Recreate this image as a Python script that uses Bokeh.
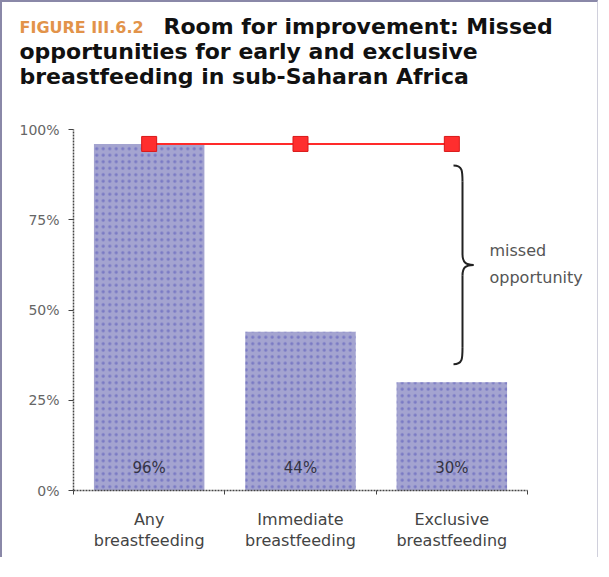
from bokeh.plotting import figure
from bokeh.models import Label, FixedTicker, NumeralTickFormatter, Range1d
from bokeh.core.properties import value
from bokeh.embed import file_html
from bokeh.resources import INLINE
import numpy as np

# ---------------- data ----------------
categories = ["Any", "Immediate", "Exclusive"]
category_second_line = ["breastfeeding", "breastfeeding", "breastfeeding"]
values = [0.96, 0.44, 0.30]
value_labels = ["96%", "44%", "30%"]
potential = [0.96, 0.96, 0.96]
y_ticks = [0, 0.25, 0.5, 0.75, 1.0]
brace_span = [0.90, 0.35]          # top / bottom of the "missed opportunity" brace
annotation_lines = ["missed", "opportunity"]
title_tag = "FIGURE III.6.2"
title_lines = ["Room for improvement: Missed",
               "opportunities for early and exclusive",
               "breastfeeding in sub-Saharan Africa"]

# ---------------- geometry (page pixels) ----------------
W, H = 598, 557
ORIGIN = 8 + 2          # body margin + css border
fl, fr, ft, fb = 81, 535, 137, 498   # chart area: x 0..N, y 0..1
NX = len(categories)


def X(px):
    return (px - fl) / (fr - fl) * NX


def Y(py):
    return (fb - py) / (fb - ft)


centers = list(np.arange(NX) + 0.5)

p = figure(width=W, height=H,
           x_range=Range1d(X(ORIGIN), X(ORIGIN + W)),
           y_range=Range1d(Y(ORIGIN + H), Y(ORIGIN)),
           output_backend="svg", toolbar_location=None, min_border=0)
p.styles = {"border-left": "2px solid #8a88a8", "border-top": "2px solid #8a88a8",
            "border-right": "1px solid #d0d0dc"}
p.outline_line_color = None
p.grid.visible = False
p.background_fill_color = "white"
p.border_fill_color = "white"

# bars
p.vbar(x=centers, top=values, width=0.73, fill_color="#a4a4d0", line_color=None,
       hatch_pattern="dot", hatch_color="#5050b8", hatch_scale=6.5, hatch_weight=1.2,
       hatch_alpha=0.5)

# value labels inside bars
p.text(x=centers, y=[Y(475)] * NX, text=value_labels, text_align="center",
       text_baseline="middle", text_font=value("DejaVu Sans"), text_font_size="15px",
       text_color="#333344")

# potential line
p.line(x=centers, y=potential, line_color="#ff2a2a", line_width=2)
p.scatter(x=centers, y=potential, marker="square", size=15, fill_color="#ff2e2e",
          line_color="#d81818")

# brace
top, bot = brace_span
mid = (top + bot) / 2
xt, xs, xp = X(461), X(470), X(481)
hk = 0.045
pt = 0.03
p.bezier(x0=[xt, xs, xs, xs], y0=[top, mid + pt, mid - pt, bot + hk],
         x1=[xs, xp, xp, xt], y1=[top - hk, mid, mid, bot],
         cx0=[xs, xs, xs, xs], cy0=[top, mid + 0.008, mid - 0.008, bot + 0.015],
         cx1=[xs, xs + 0.02, xs + 0.02, xs], cy1=[top - 0.015, mid, mid, bot],
         line_color="#222222", line_width=2)
p.segment(x0=[xs, xs], y0=[top - hk, mid - pt], x1=[xs, xs], y1=[mid + pt, bot + hk],
          line_color="#222222", line_width=2)

for i, t in enumerate(annotation_lines):
    p.add_layout(Label(x=X(497), y=Y(258 + 27 * i), text=t, text_baseline="middle",
                       text_font="DejaVu Sans", text_font_size="16px", text_color="#555555"))

# axes (drawn at the data origin, bounded to the chart area)
p.yaxis.fixed_location = 0
p.yaxis.bounds = (0, 1)
p.yaxis.ticker = FixedTicker(ticks=y_ticks)
p.yaxis.formatter = NumeralTickFormatter(format="0%")
p.yaxis.major_tick_out = 5
p.yaxis.major_tick_in = 0
p.yaxis.major_label_standoff = 9
p.yaxis.major_label_text_font = "DejaVu Sans"
p.yaxis.major_label_text_font_size = "14px"
p.yaxis.major_label_text_color = "#666666"

p.xaxis.fixed_location = 0
p.xaxis.bounds = (0, NX)
p.xaxis.ticker = FixedTicker(ticks=centers, minor_ticks=list(range(NX + 1)))
p.xaxis.major_label_overrides = {c: f"{a}\n{b}" for c, a, b in zip(centers, categories, category_second_line)}
p.xaxis.major_tick_out = 0
p.xaxis.major_tick_in = 0
p.xaxis.minor_tick_out = 4
p.xaxis.minor_tick_in = 0
p.xaxis.major_label_standoff = 15
p.xaxis.major_label_text_font = "DejaVu Sans"
p.xaxis.major_label_text_font_size = "16px"
p.xaxis.major_label_text_color = "#444444"
p.xaxis.major_label_text_line_height = 1.13

for ax in (p.xaxis, p.yaxis):
    ax.axis_line_color = "#444444"
    ax.axis_line_width = 1.5
    ax.axis_line_dash = "2 1"
    ax.major_tick_line_color = "#444444"
    ax.minor_tick_line_color = "#444444"

p.yaxis.minor_tick_line_color = None

# title
p.add_layout(Label(x=X(27), y=Y(35), text=title_tag, text_font="DejaVu Sans",
                   text_font_style="bold", text_font_size="16px", text_color="#e2934a",
                   text_baseline="middle"))
for i, t in enumerate(title_lines):
    p.add_layout(Label(x=X(171 if i == 0 else 27), y=Y(34 + 25 * i), text=t,
                       text_font="DejaVu Sans", text_font_style="bold", text_font_size="22px",
                       text_color="#111111", text_baseline="middle"))

open("out.html", "w").write(file_html(p, INLINE))
